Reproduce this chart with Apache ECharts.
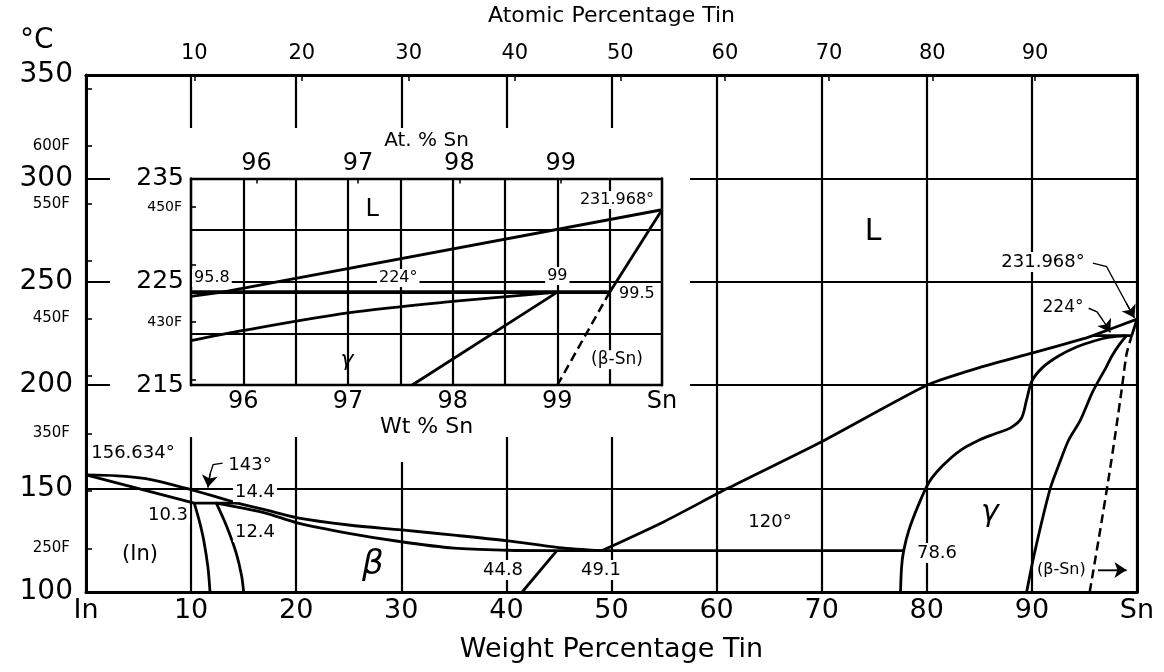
<!DOCTYPE html>
<html>
<head>
<meta charset="utf-8">
<script src="https://cdn.jsdelivr.net/npm/echarts@6/dist/echarts.min.js"></script>
<style>
  html, body { margin: 0; padding: 0; background: #fff; }
  #chart { width: 1164px; height: 672px; }
</style>
</head>
<body>
<div id="chart"></div>
<script>
// ---- data (wt% Sn, degrees C) ----
const atTicksMain = [10, 20, 30, 40, 50, 60, 70, 80, 90]
const atTicksInset = [96, 97, 98, 99]
const fTicksMain = [250, 300, 350, 400, 450, 500, 550, 600, 650]
const fLabelsMain = [250, 350, 450, 550, 600]
const fTicksInset = [420, 430, 440, 450]
const fLabelsInset = [430, 450]

// main diagram
const liquidusIn = [[0, 156.634], [3, 156.2], [5.7, 154.8], [8, 152.2], [9.9, 149.6], [12, 146.6], [14.4, 143]]
const solidusIn = [[0, 156.634], [10.3, 143]]
const peritectic143 = [[10.3, 143], [14.4, 143]]
const solvusIn = [[10.3, 143], [10.8, 134], [11.2, 125], [11.6, 112], [11.8, 100]]
const solvusBeta = [[12.4, 143], [13.4, 131.6], [14.3, 118.7], [14.8, 108], [15.0, 100]]
const liquidusBeta = [[14.4, 143], [17, 139.8], [20, 136], [25, 132.4], [30, 130], [35, 127.5], [40, 124.8], [45, 121.5], [49.1, 120]]
const solidusBeta = [[12.4, 143], [17, 138.3], [20, 133.6], [25, 128.4], [30, 124.3], [35, 121.2], [40, 120.2], [44.8, 120]]
const betaRight = [[44.8, 120], [41.5, 100]]
const eutectic120 = [[44.8, 120], [77.8, 120]]
const liquidusSn = [[49.1, 120], [55, 134], [61, 150], [70, 172.7], [80, 200], [85, 208.5], [90, 215.5], [95, 222.6], [95.8, 224], [100, 231.968]]
const gammaLeft = [[77.5, 100], [77.6, 112], [77.8, 120], [78.3, 130], [79.2, 142], [80.2, 153], [81.5, 161], [83.2, 168.5], [85, 173.5], [86.5, 176.5], [88, 179.5], [89, 184], [89.5, 193], [90, 202], [91, 208.5], [92.5, 214], [94.3, 218.6], [96, 221.5], [97.4, 223.2], [99, 224]]
const gammaRight = [[89.5, 100], [90.3, 120], [91.7, 149.3], [92.6, 162], [93.5, 173.5], [94.6, 183], [95.8, 197], [97.1, 209], [97.6, 214], [98.3, 219.5], [99, 224]]
const betaSnSolvus = [[95.5, 100], [96.5, 130], [97.3, 155], [97.9, 175], [98.6, 200], [99.0, 215], [99.5, 224]]
const betaSnSolidus = [[99.5, 224], [100, 231.968]]
const peritectic224 = [[95.8, 224], [99.5, 224]]

// inset (95.5 - 100 wt%, 215 - 235 C)
const insetLiquidus = [[95.5, 223.6], [95.8, 224], [100, 231.968]]
const insetPeritectic = [[95.5, 224], [99.5, 224]]
const insetGammaLower = [[95.5, 219.3], [96, 220.3], [97, 222.0], [98, 223.1], [99, 224]]
const insetGammaRight = [[97.61, 215], [99, 224]]
const insetBetaSolidus = [[99.5, 224], [100, 231.968]]
const insetBetaSolvus = [[99.0, 215], [99.5, 224]]

// leader lines (last point = arrow tip)
const leader143 = [[13.0, 162.3], [12.1, 161.6], [11.8, 157], [11.6, 150.6]]
const leader232 = [[95.8, 259.0], [97.1, 257.4], [99.0, 239.5], [99.75, 232.6]]
const leader224 = [[95.4, 237.2], [96.2, 235.5], [97.0, 229.5], [97.45, 225.6]]
const arrowBetaSn = [[96.3, 110.6], [99.0, 110.6]]

// text notes [x, y, text]
const mainNotes = [
  [74.9, 274.1, 'L'], [91.06, 259.6, '231.968°'], [92.96, 237.3, '224°'],
  [86.0, 138.2, 'γ'], [92.8, 110.6, '(β-Sn)'], [80.97, 118.9, '78.6'],
  [65.08, 133.8, '120°'], [49.0, 110.6, '49.1'], [39.68, 110.6, '44.8'],
  [27.3, 113.1, 'β'], [5.14, 117.9, '(In)'], [7.8, 137.2, '10.3'],
  [16.08, 129.0, '12.4'], [16.08, 148.4, '14.4'], [15.6, 161.4, '143°'],
  [4.47, 167.2, '156.634°']
]
const insetNotes = [
  [97.23, 231.94, 'L'], [96.99, 217.45, 'γ'], [99.57, 217.45, '(β-Sn)'],
  [99.57, 232.9, '231.968°'], [95.70, 225.37, '95.8'], [97.48, 225.37, '224°'],
  [99.0, 225.56, '99'], [99.76, 223.8, '99.5']
]

// ---- helpers ----
const M_SN = 118.71, M_IN = 114.82
const atToWt = a => a * M_SN / (a * M_SN + (100 - a) * M_IN) * 100
const wtToAt = w => (w / M_SN) / (w / M_SN + (100 - w) / M_IN) * 100
const fToC = f => (f - 32) * 5 / 9
const cToF = c => c * 9 / 5 + 32

const FONT = 'DejaVu Sans'
const BLACK = '#000'

const mainSizes = { 'L': 30, 'β': 34, 'γ': 30, '(In)': 21, '(β-Sn)': 16, '231.968°': 18, '224°': 17 }
const insetSizes = { 'L': 24, 'γ': 22, '(β-Sn)': 17 }
const plainText = ['L', 'β', 'γ', '(In)']

function curve(data, inset, opts) {
  return Object.assign({
    type: 'line',
    xAxisIndex: inset ? 2 : 0,
    yAxisIndex: inset ? 3 : 0,
    data: data,
    symbol: 'none',
    silent: true,
    z: inset ? 6 : 3,
    lineStyle: { color: BLACK, width: 2.8 }
  }, opts || {})
}

// leader body as polyline, arrow head on the last segment
function leaderBody(list) {
  return {
    type: 'lines', coordinateSystem: 'cartesian2d', xAxisIndex: 0, yAxisIndex: 0,
    polyline: true, silent: true, z: 4,
    lineStyle: { color: BLACK, width: 1.4, opacity: 1 },
    data: list.map(l => ({ coords: l }))
  }
}
function leaderHead(list) {
  return {
    type: 'lines', coordinateSystem: 'cartesian2d', xAxisIndex: 0, yAxisIndex: 0,
    silent: true, z: 4,
    symbol: ['none', 'arrow'], symbolSize: [7, 12],
    lineStyle: { color: BLACK, width: 1.4, opacity: 1, curveness: 0 },
    data: list.map(l => ({ coords: l.slice(-2) }))
  }
}

function notes(list, sizes, inset) {
  return {
    type: 'scatter',
    xAxisIndex: inset ? 2 : 0,
    yAxisIndex: inset ? 3 : 0,
    symbolSize: 0,
    silent: true,
    z: 8,
    itemStyle: { opacity: 1, color: BLACK },
    data: list.map(n => {
      const plain = plainText.includes(n[2])
      const greek = n[2] === 'β' || n[2] === 'γ'
      return {
        value: [n[0], n[1]],
        name: n[2],
        label: {
          fontSize: sizes[n[2]] || (inset ? 16 : 18),
          fontStyle: greek ? 'italic' : 'normal',
          backgroundColor: plain ? 'transparent' : '#fff',
          padding: plain ? 0 : [1, 2]
        }
      }
    }),
    label: {
      show: true,
      position: 'inside',
      formatter: p => p.name,
      color: BLACK,
      opacity: 1,
      fontFamily: FONT
    }
  }
}

const gridLine = { show: true, lineStyle: { color: BLACK, width: 2.2 } }
const frameLine = { show: true, lineStyle: { color: BLACK, width: 3 } }
const insetLine = { show: true, lineStyle: { color: BLACK, width: 2.4 } }

const chart = echarts.init(document.getElementById('chart'))

const option = {
  animation: false,
  backgroundColor: '#fff',
  textStyle: { fontFamily: FONT, color: BLACK },
  grid: [
    { left: 86, top: 75, width: 1051, height: 517, outerBoundsMode: 'none', containLabel: false },
    { left: 191, top: 178.4, width: 471, height: 206.8, outerBoundsMode: 'none', containLabel: false, z: 3 }
  ],
  xAxis: [
    {
      gridIndex: 0, type: 'value', min: 0, max: 100, interval: 10, position: 'bottom',
      axisLine: frameLine, axisTick: { show: false }, splitLine: gridLine,
      axisLabel: {
        fontSize: 27, color: BLACK, margin: 5, hideOverlap: false,
        showMinLabel: true, showMaxLabel: true,
        formatter: v => v === 0 ? 'In' : (v === 100 ? 'Sn' : v)
      },
      name: 'Weight Percentage Tin', nameLocation: 'middle', nameGap: 44,
      nameTextStyle: { fontSize: 27, color: BLACK }
    },
    {
      gridIndex: 0, type: 'value', min: 0, max: 100, position: 'top',
      axisLine: frameLine, splitLine: { show: false },
      axisTick: { show: true, inside: true, length: 6, customValues: atTicksMain.map(atToWt), lineStyle: { color: BLACK, width: 1.5 } },
      axisLabel: {
        fontSize: 21, color: BLACK, margin: 11, hideOverlap: false,
        customValues: atTicksMain.map(atToWt),
        formatter: v => Math.round(wtToAt(v))
      },
      name: 'Atomic Percentage Tin', nameLocation: 'middle', nameGap: 48,
      nameTextStyle: { fontSize: 22, color: BLACK }
    },
    {
      gridIndex: 1, type: 'value', min: 95.5, max: 100, interval: 0.5, position: 'bottom', z: 3,
      axisLine: insetLine, axisTick: { show: false }, splitLine: gridLine,
      axisLabel: {
        fontSize: 24, color: BLACK, margin: 5, hideOverlap: false,
        showMinLabel: true, showMaxLabel: true,
        formatter: v => Number.isInteger(v) ? (v === 100 ? 'Sn' : v) : ''
      },
      name: 'Wt % Sn', nameLocation: 'middle', nameGap: 31,
      nameTextStyle: { fontSize: 22, color: BLACK }
    },
    {
      gridIndex: 1, type: 'value', min: 95.5, max: 100, position: 'top', z: 3,
      axisLine: insetLine, splitLine: { show: false },
      axisTick: { show: true, inside: true, length: 5, customValues: atTicksInset.map(atToWt), lineStyle: { color: BLACK, width: 1.5 } },
      axisLabel: {
        fontSize: 24, color: BLACK, margin: 3, hideOverlap: false,
        customValues: atTicksInset.map(atToWt),
        formatter: v => Math.round(wtToAt(v))
      },
      name: 'At. % Sn', nameLocation: 'middle', nameGap: 28,
      nameTextStyle: { fontSize: 20, color: BLACK }
    }
  ],
  yAxis: [
    {
      gridIndex: 0, type: 'value', min: 100, max: 350, interval: 50, position: 'left',
      axisLine: frameLine, axisTick: { show: false }, splitLine: gridLine,
      axisLabel: { fontSize: 28, color: BLACK, margin: 13, hideOverlap: false, showMinLabel: true, showMaxLabel: true }
    },
    {
      gridIndex: 0, type: 'value', min: 100, max: 350, position: 'left',
      axisLine: { show: false }, splitLine: { show: false },
      axisTick: { show: true, inside: true, length: 6, customValues: fTicksMain.map(fToC), lineStyle: { color: BLACK, width: 1.6 } },
      axisLabel: {
        fontSize: 15, color: BLACK, margin: 16, hideOverlap: false,
        customValues: fLabelsMain.map(fToC),
        formatter: v => Math.round(cToF(v)) + 'F'
      }
    },
    {
      gridIndex: 0, type: 'value', min: 100, max: 350, position: 'right',
      axisLine: frameLine, axisTick: { show: false }, axisLabel: { show: false }, splitLine: { show: false }
    },
    {
      gridIndex: 1, type: 'value', min: 215, max: 235, interval: 5, position: 'left', z: 3,
      axisLine: insetLine, axisTick: { show: false }, splitLine: gridLine,
      axisLabel: {
        fontSize: 25, color: BLACK, margin: 7, hideOverlap: false,
        showMinLabel: true, showMaxLabel: true,
        formatter: v => v % 10 === 5 ? v : ''
      }
    },
    {
      gridIndex: 1, type: 'value', min: 215, max: 235, position: 'left', z: 3,
      axisLine: { show: false }, splitLine: { show: false },
      axisTick: { show: true, inside: true, length: 5, customValues: fTicksInset.map(fToC), lineStyle: { color: BLACK, width: 1.6 } },
      axisLabel: {
        fontSize: 14, color: BLACK, margin: 9, hideOverlap: false,
        customValues: fLabelsInset.map(fToC),
        formatter: v => Math.round(cToF(v)) + 'F'
      }
    },
    {
      gridIndex: 1, type: 'value', min: 215, max: 235, position: 'right', z: 3,
      axisLine: insetLine, axisTick: { show: false }, axisLabel: { show: false }, splitLine: { show: false }
    }
  ],
  graphic: {
    elements: [
      // blank area behind the inset
      { type: 'rect', z: 1, silent: true, shape: { x: 110, y: 128, width: 580, height: 309 }, style: { fill: '#fff' } },
      { type: 'rect', z: 1, silent: true, shape: { x: 394, y: 436, width: 12, height: 26 }, style: { fill: '#fff' } },
      { type: 'text', z: 2, left: 20, top: 27, style: { text: '°C', font: '28px "DejaVu Sans"', fill: BLACK } }
    ]
  },
  series: [
    curve(liquidusIn, false, { smooth: 0.3 }),
    curve(solidusIn),
    curve(peritectic143),
    curve(solvusIn, false, { smooth: 0.3 }),
    curve(solvusBeta, false, { smooth: 0.3 }),
    curve(liquidusBeta, false, { smooth: 0.3 }),
    curve(solidusBeta, false, { smooth: 0.3 }),
    curve(betaRight),
    curve(eutectic120),
    curve(liquidusSn, false, { smooth: 0.2 }),
    curve(gammaLeft, false, { smooth: 0.3 }),
    curve(gammaRight, false, { smooth: 0.3 }),
    curve(betaSnSolvus, false, { smooth: 0.2, lineStyle: { color: BLACK, width: 2.5, type: [9, 5] } }),
    curve(betaSnSolidus),
    curve(peritectic224),
    curve(insetLiquidus, true),
    curve(insetPeritectic, true, { lineStyle: { color: BLACK, width: 3.6 } }),
    curve(insetGammaLower, true, { smooth: 0.3 }),
    curve(insetGammaRight, true),
    curve(insetBetaSolidus, true),
    curve(insetBetaSolvus, true, { lineStyle: { color: BLACK, width: 2.5, type: [9, 5] } }),
    leaderBody([leader143, leader232, leader224, arrowBetaSn]),
    leaderHead([leader143, leader232, leader224, arrowBetaSn]),
    notes(mainNotes, mainSizes, false),
    notes(insetNotes, insetSizes, true)
  ]
}

chart.setOption(option)
</script>
</body>
</html>
